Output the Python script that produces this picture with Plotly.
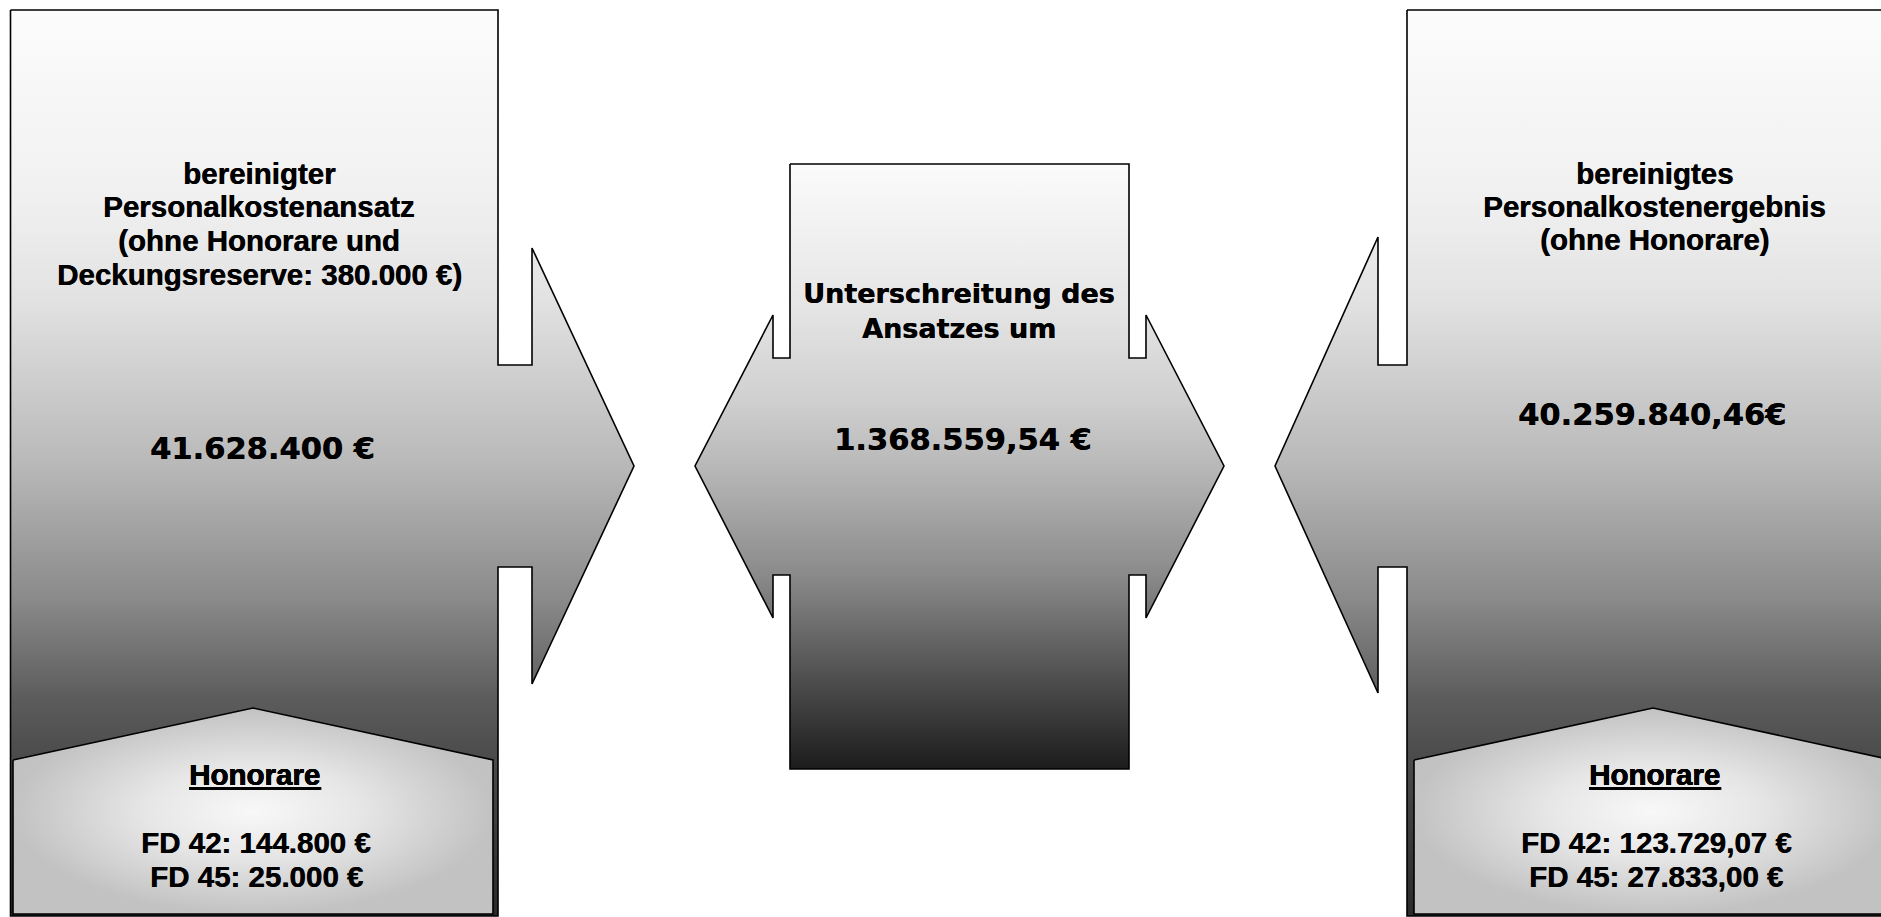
import plotly.graph_objects as go

# ---------------- data (texts / values) ----------------
left_title = ["bereinigter", "Personalkostenansatz", "(ohne Honorare und", "Deckungsreserve: 380.000 €)"]
left_value = "41.628.400 €"
left_fees_title = "Honorare"
left_fees = ["FD 42: 144.800 €", "FD 45: 25.000 €"]

mid_title = ["Unterschreitung des", "Ansatzes um"]
mid_value = "1.368.559,54 €"

right_title = ["bereinigtes", "Personalkostenergebnis", "(ohne Honorare)"]
right_value = "40.259.840,46€"
right_fees_title = "Honorare"
right_fees = ["FD 42: 123.729,07 €", "FD 45: 27.833,00 €"]

# ---------------- geometry (pixel layout of the diagram) ----------------
W, H = 1881, 917

def right_arrow_block(x0, x1, y0, y1, shaft_x, shaft_y0, shaft_y1, head_y0, head_y1, tip_x, tip_y):
    return [(x0, y0), (x1, y0), (x1, shaft_y0), (shaft_x, shaft_y0), (shaft_x, head_y0),
            (tip_x, tip_y), (shaft_x, head_y1), (shaft_x, shaft_y1), (x1, shaft_y1),
            (x1, y1), (x0, y1), (x0, y0)]

def left_arrow_block(x0, x1, y0, y1, shaft_x, shaft_y0, shaft_y1, head_y0, head_y1, tip_x, tip_y):
    return [(x0, y0), (x1, y0), (x1, y1), (x0, y1), (x0, shaft_y1), (shaft_x, shaft_y1),
            (shaft_x, head_y1), (tip_x, tip_y), (shaft_x, head_y0), (shaft_x, shaft_y0),
            (x0, shaft_y0), (x0, y0)]

def double_arrow_block(x0, x1, y0, y1, lsx, rsx, sy0, sy1, hy0, hy1, ltip, rtip, ty):
    return [(x0, y0), (x1, y0), (x1, sy0), (rsx, sy0), (rsx, hy0), (rtip, ty), (rsx, hy1),
            (rsx, sy1), (x1, sy1), (x1, y1), (x0, y1), (x0, sy1), (lsx, sy1), (lsx, hy1),
            (ltip, ty), (lsx, hy0), (lsx, sy0), (x0, sy0), (x0, y0)]

def pentagon(x0, x1, apex_x, apex_y, shoulder_y, bottom):
    return [(x0, shoulder_y), (apex_x, apex_y), (x1, shoulder_y), (x1, bottom), (x0, bottom), (x0, shoulder_y)]

left_poly = right_arrow_block(10.5, 498, 10, 916, 532, 365, 567, 248, 684, 634, 466)
mid_poly = double_arrow_block(790, 1129, 164, 769, 773, 1146, 358, 575, 315, 618, 695, 1224, 466)
right_poly = left_arrow_block(1407, 1900, 10, 916, 1378, 365, 567, 237, 693, 1275, 466)
left_pent = pentagon(13, 493, 253, 708, 760, 914)
right_pent = pentagon(1414, 1892, 1653, 708, 760, 914)

side_scale = [[0.0, "#fcfcfc"], [0.21, "#f0f0f0"], [0.32, "#e2e2e2"], [0.5, "#b9b9b9"],
              [0.65, "#8a8a8a"], [0.76, "#5c5c5c"], [0.83, "#4a4a4a"], [1.0, "#2a2a2a"]]
mid_scale = [[0.0, "#fbfbfb"], [0.225, "#e6e6e6"], [0.39, "#d0d0d0"], [0.5, "#b8b8b8"],
             [0.68, "#8a8a8a"], [0.8, "#606060"], [1.0, "#1c1c1c"]]
pent_scale = [[0.0, "#f8f8f8"], [0.45, "#e6e6e6"], [1.0, "#c2c2c2"]]

fig = go.Figure()

def add_poly(pts, grad):
    xs = [p[0] for p in pts]
    ys = [p[1] for p in pts]
    fig.add_trace(go.Scatter(x=xs, y=ys, mode="lines", fill="toself",
                             line=dict(color="black", width=1.6),
                             fillgradient=grad, hoverinfo="skip", showlegend=False))

add_poly(left_poly, dict(type="vertical", colorscale=side_scale, start=10, stop=916))
add_poly(right_poly, dict(type="vertical", colorscale=side_scale, start=10, stop=916))
add_poly(mid_poly, dict(type="vertical", colorscale=mid_scale, start=164, stop=769))
add_poly(left_pent, dict(type="radial", colorscale=pent_scale))
add_poly(right_pent, dict(type="radial", colorscale=pent_scale))

ARIAL = "Liberation Sans, Arial, sans-serif"
WIDE = "DejaVu Sans, Verdana, sans-serif"

def add_text(x, baseline, text, family, size, heavy=0.5):
    fig.add_annotation(x=x, y=baseline - 0.36 * size, text="<b>" + text + "</b>", showarrow=False,
                       xanchor="center", yanchor="middle", xref="x", yref="y",
                       font=dict(family=family, size=size, color="black",
                                 shadow="%.1fpx 0px 0px black" % heavy))

for t, b in zip(left_title, [184, 217, 251, 285]):
    add_text(259, b, t, ARIAL, 29.5)
add_text(262, 459, left_value, WIDE, 30.5, 0.4)
add_text(254, 785, "<u>" + left_fees_title + "</u>", ARIAL, 29.5)
for t, b in zip(left_fees, [853, 887]):
    add_text(256, b, t, ARIAL, 29.5)

for t, b in zip(mid_title, [303, 338]):
    add_text(959, b, t, WIDE, 27, 0.4)
add_text(963, 450, mid_value, WIDE, 30.5, 0.4)

for t, b in zip(right_title, [184, 217, 250]):
    add_text(1654, b, t, ARIAL, 29.5)
add_text(1652, 425, right_value, WIDE, 30.5, 0.4)
add_text(1654, 785, "<u>" + right_fees_title + "</u>", ARIAL, 29.5)
for t, b in zip(right_fees, [853, 887]):
    add_text(1656, b, t, ARIAL, 29.5)

fig.update_layout(width=W, height=H, margin=dict(l=0, r=0, t=0, b=0),
                  paper_bgcolor="white", plot_bgcolor="white", showlegend=False)
fig.update_xaxes(range=[0, W], visible=False, fixedrange=True)
fig.update_yaxes(range=[H, 0], visible=False, fixedrange=True)

fig.write_html("out.html", config={"displayModeBar": False})
